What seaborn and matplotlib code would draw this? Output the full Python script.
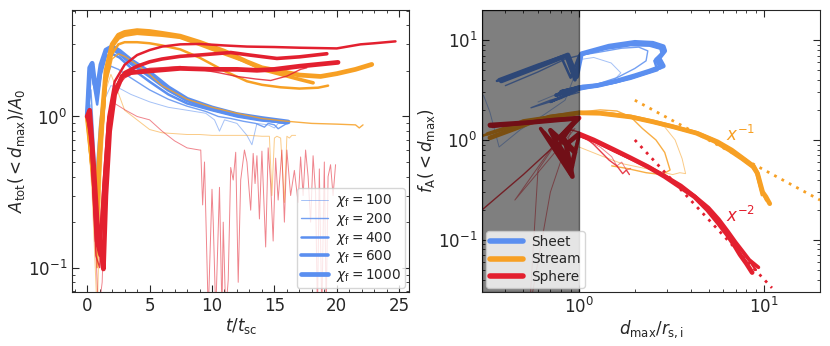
import numpy as np
import pandas as pd
import matplotlib
matplotlib.use("Agg")
import matplotlib.pyplot as plt
import seaborn as sns
from matplotlib.ticker import MultipleLocator

sns.set_style("ticks")
plt.rcParams['font.family'] = ['DejaVu Sans']
plt.rcParams['mathtext.fontset'] = 'dejavusans'

chis = [100, 200, 400, 600, 1000]
widths = [0.7, 1.0, 1.8, 2.6, 3.4]
alphas = [0.55, 0.85, 1.0, 1.0, 1.0]
c_sheet, c_stream, c_sphere = '#5b8ff0', '#f7a024', '#e3202f'

# ---- left panel: A_tot(<d_max)/A_0 vs t/t_sc ----
sheet_t = {
    100: [0, 0.3, 0.7, 1.0, 1.4, 1.9, 2.5, 3.5, 5, 6.5, 8, 9.5, 10.2, 10.6, 11, 12, 12.8, 13.2, 13.6, 14.5, 15, 15.3, 16],
    200: [0, 0.3, 0.7, 1.0, 1.4, 1.9, 2.5, 3.5, 5, 6.5, 8, 9.5, 10.5, 11.5, 12.5, 13.5, 14.2, 14.5, 15, 15.3, 16],
    400: [0, 0.2, 0.4, 0.6, 0.8, 1.1, 1.5, 2.0, 2.6, 3.5, 5, 6.5, 8, 10, 12, 14, 16],
    600: [0, 0.2, 0.4, 0.6, 0.8, 1.1, 1.5, 2.0, 2.6, 3.5, 5, 6.5, 8, 10, 12, 14, 16],
    1000: [0, 0.2, 0.4, 0.6, 0.8, 1.1, 1.5, 2.0, 2.6, 3.5, 5, 6.5, 8, 10, 12, 14, 16.1],
}
sheet_a = {
    100: [1.0, 1.2, 0.35, 0.7, 1.3, 1.6, 1.55, 1.4, 1.25, 1.15, 1.1, 1.05, 0.95, 0.8, 0.95, 0.9, 0.75, 0.65, 0.9, 0.88, 0.84, 0.9, 0.9],
    200: [1.0, 1.5, 0.4, 0.9, 1.7, 2.15, 2.05, 1.8, 1.5, 1.3, 1.17, 1.08, 1.0, 0.97, 0.93, 0.9, 0.85, 0.9, 0.88, 0.83, 0.9],
    400: [1.0, 1.8, 2.1, 1.5, 1.2, 1.9, 2.5, 2.6, 2.45, 2.1, 1.7, 1.4, 1.22, 1.1, 1.0, 0.94, 0.91],
    600: [1.0, 2.0, 2.2, 1.6, 1.4, 2.1, 2.7, 2.8, 2.6, 2.25, 1.85, 1.5, 1.28, 1.12, 1.02, 0.96, 0.91],
    1000: [1.0, 2.1, 2.25, 1.65, 1.5, 2.2, 2.75, 2.9, 2.7, 2.35, 1.95, 1.55, 1.3, 1.14, 1.03, 0.97, 0.92],
}
stream_t = {
    100: [0, 0.4, 0.8, 1.1, 1.5, 1.9, 2.4, 3, 4, 5, 6, 7, 8, 9, 10, 11, 12, 13, 14, 14.6, 14.8, 15.0, 15.2, 15.5, 15.8, 16.0, 16.2, 16.4, 16.7],
    200: [0, 0.4, 0.8, 1.1, 1.5, 2.0, 2.5, 3, 4, 5, 6, 8, 10, 12, 14, 16, 18, 20, 21.5, 21.8, 22.1],
    400: [0, 0.4, 0.8, 1.1, 1.5, 2.0, 2.5, 3, 4, 5, 6, 7.45, 9, 11, 12.8, 14, 15.5, 17, 18.5, 19.3],
    600: [0, 0.4, 0.8, 1.1, 1.5, 2.0, 2.5, 3, 4, 5, 6, 7.45, 9, 11, 12.8, 14, 15.5, 17, 18.1],
    1000: [0, 0.4, 0.8, 1.1, 1.5, 2.0, 2.5, 3, 4, 5, 6, 7.45, 9, 11, 12.8, 14, 15.5, 17, 18.7, 20, 21.5, 22.8],
}
stream_a = {
    100: [1.0, 0.3, 0.05, 0.4, 1.5, 1.9, 1.5, 1.1, 0.95, 0.82, 0.78, 0.77, 0.76, 0.76, 0.75, 0.75, 0.75, 0.75, 0.74, 0.74, 0.3, 0.72, 0.74, 0.72, 0.27, 0.74, 0.72, 0.75, 0.75],
    200: [1.0, 0.4, 0.1, 0.5, 1.6, 2.4, 2.6, 2.5, 2.2, 1.9, 1.6, 1.3, 1.15, 1.05, 0.97, 0.93, 0.9, 0.89, 0.88, 0.84, 0.88],
    400: [1.0, 0.4, 0.2, 0.6, 1.7, 2.6, 3.0, 3.1, 3.1, 3.05, 2.95, 2.78, 2.45, 2.0, 1.71, 1.62, 1.56, 1.53, 1.55, 1.6],
    600: [1.0, 0.45, 0.3, 0.7, 1.9, 2.9, 3.3, 3.45, 3.55, 3.5, 3.45, 3.34, 3.0, 2.6, 2.3, 2.05, 1.9, 1.76, 1.67],
    1000: [1.0, 0.5, 0.32, 0.8, 2.0, 3.0, 3.45, 3.6, 3.7, 3.65, 3.55, 3.4, 3.1, 2.7, 2.3, 2.1, 1.99, 1.88, 1.84, 1.92, 2.05, 2.21],
}
sphere_t = {
    100: [0, 0.3, 0.6, 0.9, 1.2, 1.5, 1.8, 2.2, 3, 4, 5, 6, 7, 8, 9, 9.1, 9.25, 9.4, 9.7, 10.0,
          10.1, 10.3, 10.6, 10.8, 10.9, 11.1, 11.3, 11.5, 11.7, 11.9, 12.1, 12.3, 12.6, 12.8, 13.1,
          13.3, 13.45, 13.6, 13.8, 14.0, 14.3, 14.5, 14.7, 14.9, 15.1, 15.3, 15.6, 15.8, 16.0, 16.3,
          16.6, 16.9, 17.1, 17.3, 17.5, 17.7, 17.9, 18.1, 18.3, 18.45, 18.6, 18.8, 19.0, 19.15, 19.3,
          19.5, 19.7, 19.9],
    200: [0, 0.3, 0.7, 1.0, 1.3, 1.7, 2.2, 3, 4, 5, 6, 7.45, 9, 10.5, 12, 13.5, 14.7, 16, 17.1, 17.6],
    400: [0, 0.3, 0.7, 1.0, 1.3, 1.7, 2.2, 3, 4, 5, 6, 7.45, 9, 11, 12.8, 15, 17, 19, 20, 21.9, 23, 24.7],
    600: [0, 0.3, 0.7, 1.0, 1.3, 1.7, 2.2, 3, 4, 5, 6, 7.45, 9, 11.5, 13, 15.2, 17, 19.2],
    1000: [0, 0.2, 0.5, 0.8, 1.1, 1.3, 1.5, 1.8, 2.2, 2.8, 3.5, 5, 7.45, 10, 12, 13.6, 15, 17, 20.1],
}
sphere_a = {
    100: [1.0, 0.6, 0.2, 0.05, 0.08, 0.5, 1.0, 1.22, 1.11, 1.0, 0.95, 0.8, 0.69, 0.62, 0.6, 0.6, 0.26, 0.5, 0.05, 0.33,
          0.2, 0.05, 0.34, 0.05, 0.2, 0.05, 0.083, 0.46, 0.38, 0.58, 0.08, 0.38, 0.6, 0.5, 0.24,
          0.57, 0.36, 0.55, 0.21, 0.59, 0.137, 0.62, 0.36, 0.15, 0.53, 0.28, 0.6, 0.2, 0.6, 0.3,
          0.44, 0.27, 0.54, 0.3, 0.6, 0.4, 0.2, 0.55, 0.31, 0.05, 0.45, 0.05, 0.5, 0.05, 0.4,
          0.48, 0.3, 0.48],
    200: [1.0, 0.6, 0.12, 0.1, 0.3, 0.9, 1.5, 1.8, 2.0, 2.08, 2.1, 2.14, 2.05, 1.95, 1.84, 1.77, 1.73, 1.85, 2.05, 2.1],
    400: [1.0, 0.7, 0.15, 0.12, 0.35, 1.0, 1.7, 2.2, 2.55, 2.75, 2.9, 3.0, 3.02, 2.95, 2.9, 2.88, 2.85, 2.83, 2.82, 3.0, 3.05, 3.14],
    600: [1.0, 0.8, 0.2, 0.13, 0.3, 0.9, 1.5, 1.95, 2.15, 2.3, 2.4, 2.5, 2.55, 2.65, 2.55, 2.42, 2.48, 2.6],
    1000: [1.0, 1.1, 0.5, 0.2, 0.13, 0.098, 0.3, 0.8, 1.4, 1.85, 1.95, 2.0, 2.08, 2.05, 2.05, 2.02, 2.05, 2.15, 2.28],
}

# ---- right panel: f_A(<d_max) vs d_max/r_s,i ----
sheet_d = {
    100: [0.305, 0.33, 0.37, 0.48, 0.65, 0.84, 0.95, 1.02, 1.2, 1.49, 1.68, 1.55, 1.3, 1.05, 0.8, 0.6],
    200: [0.4, 0.6, 0.85, 1.0, 1.3, 1.7, 2.1, 2.35, 2.3, 2.0, 1.6, 1.3, 1.05, 0.8, 0.55, 0.7, 1.0],
    400: [0.36, 0.55, 0.8, 0.9, 1.0, 1.4, 1.9, 2.4, 2.75, 2.8, 2.55, 2.65, 2.3, 1.9, 1.5, 1.2, 1.0, 0.7, 0.95],
    600: [0.37, 0.6, 0.85, 0.95, 1.02, 1.4, 1.95, 2.45, 2.8, 2.85, 2.6, 2.75, 2.35, 1.95, 1.55, 1.2, 1.0, 0.75, 1.0],
    1000: [0.38, 0.6, 0.87, 0.97, 1.03, 1.45, 2.0, 2.5, 2.85, 2.9, 2.7, 2.85, 2.4, 2.0, 1.6, 1.25, 1.05, 0.8, 1.0],
}
sheet_f = {
    100: [2.8, 1.9, 0.85, 1.26, 1.8, 2.5, 4.5, 6.4, 6.7, 5.9, 4.7, 4.0, 3.5, 3.2, 3.0, 2.4],
    200: [3.5, 4.8, 6.5, 7.0, 7.6, 8.3, 8.5, 7.8, 6.2, 5.2, 4.2, 3.7, 3.3, 2.6, 2.1, 2.5, 3.0],
    400: [3.9, 5.2, 6.8, 4.2, 7.0, 8.2, 8.9, 8.8, 8.2, 7.2, 6.2, 5.0, 4.6, 4.1, 3.7, 3.4, 3.2, 2.4, 3.1],
    600: [4.0, 5.6, 7.0, 4.0, 7.2, 8.4, 9.2, 9.0, 8.3, 7.5, 6.4, 5.3, 4.8, 4.3, 3.8, 3.5, 3.3, 2.8, 3.4],
    1000: [3.9, 5.4, 7.1, 4.3, 7.3, 8.7, 9.5, 9.3, 8.6, 7.8, 6.6, 5.5, 4.9, 4.4, 3.9, 3.5, 3.4, 3.0, 3.3],
}
stream_d = {
    100: [0.3, 0.45, 0.7, 1.0, 1.4, 1.9, 2.4, 2.9, 3.3, 3.6, 3.76, 3.5, 3.2, 2.5, 1.7, 1.3, 1.0, 0.8],
    200: [0.35, 0.5, 0.75, 1.0, 1.3, 1.6, 1.9, 2.2, 2.6, 2.9, 3.1, 2.8, 2.3, 1.8, 1.5],
    400: [0.3, 0.4, 0.55, 0.7, 0.9, 1.0, 1.3, 1.9, 2.5, 3.24, 4.36, 5.5, 6.56, 7.6, 8.6, 9.0, 9.3, 9.7],
    600: [0.32, 0.42, 0.5, 0.7, 0.9, 1.0, 1.3, 1.9, 2.5, 3.3, 4.4, 5.6, 6.7, 7.8, 8.8, 9.2, 9.5, 9.8, 10.3],
    1000: [0.33, 0.45, 0.55, 0.75, 0.9, 1.0, 1.3, 1.9, 2.5, 3.2, 4.3, 5.4, 6.5, 7.6, 8.7, 9.2, 9.5, 9.8, 10.2, 10.7],
}
stream_f = {
    100: [1.08, 1.5, 1.75, 1.85, 1.9, 1.75, 1.55, 1.35, 1.0, 0.65, 0.46, 0.47, 0.45, 0.5, 0.58, 0.7, 0.85, 0.9],
    200: [1.2, 1.5, 1.8, 1.9, 2.0, 1.95, 1.7, 1.3, 1.0, 0.75, 0.5, 0.45, 0.47, 0.52, 0.55],
    400: [1.1, 1.3, 1.5, 1.75, 1.8, 1.85, 1.83, 1.68, 1.5, 1.33, 1.15, 0.95, 0.78, 0.64, 0.54, 0.48, 0.38, 0.28],
    600: [1.15, 1.35, 1.55, 1.7, 1.8, 1.88, 1.86, 1.72, 1.54, 1.35, 1.17, 0.97, 0.8, 0.65, 0.55, 0.47, 0.36, 0.3, 0.25],
    1000: [1.05, 1.3, 1.5, 1.72, 1.82, 1.87, 1.85, 1.7, 1.52, 1.36, 1.17, 0.97, 0.79, 0.65, 0.54, 0.46, 0.37, 0.3, 0.27, 0.23],
}
sphere_d = {
    100: [0.9, 0.7, 0.54, 0.6, 0.8, 0.95, 0.45, 0.7, 1.0, 1.3, 1.5, 1.6, 1.7, 1.8, 1.9],
    200: [0.3, 0.5, 0.7, 0.85, 1.0, 1.2, 1.45, 1.6, 1.72, 1.8, 1.87],
    400: [0.34, 0.5, 0.7, 0.95, 0.75, 0.9, 0.65, 0.88, 1.0, 1.25, 1.6, 2.0, 2.4, 3.0, 3.6, 4.3, 5.0, 5.7, 6.4, 7.1, 7.7, 8.3, 9.0],
    600: [0.33, 0.5, 0.72, 0.98, 0.78, 0.92, 0.62, 0.9, 1.0, 1.22, 1.55, 1.95, 2.4, 2.95, 3.55, 4.25, 5.0, 5.7, 6.4, 7.0, 7.6, 8.3, 9.3],
    1000: [0.33, 0.55, 0.75, 1.0, 0.8, 0.95, 0.7, 0.92, 0.85, 1.0, 1.2, 1.54, 1.9, 2.35, 2.9, 3.5, 4.2, 4.93, 5.6, 6.3, 6.9, 7.4, 8.0, 8.6],
}
sphere_f = {
    100: [1.2, 0.3, 0.02, 0.5, 1.1, 1.3, 0.25, 0.8, 1.1, 0.85, 0.68, 0.55, 0.6, 0.5, 0.52],
    200: [0.2, 0.45, 0.8, 1.3, 1.2, 0.9, 0.63, 0.55, 0.46, 0.5, 0.45],
    400: [1.35, 1.45, 1.55, 1.6, 1.0, 0.6, 1.2, 0.5, 1.1, 0.95, 0.76, 0.62, 0.52, 0.42, 0.34, 0.26, 0.2, 0.15, 0.115, 0.09, 0.074, 0.062, 0.05],
    600: [1.38, 1.48, 1.6, 1.65, 0.9, 0.55, 1.3, 0.45, 1.12, 0.97, 0.78, 0.64, 0.53, 0.43, 0.35, 0.27, 0.21, 0.16, 0.12, 0.095, 0.078, 0.063, 0.053],
    1000: [1.41, 1.5, 1.58, 1.66, 1.1, 0.75, 1.25, 0.43, 0.9, 1.15, 1.0, 0.8, 0.66, 0.54, 0.43, 0.34, 0.27, 0.2, 0.15, 0.113, 0.088, 0.071, 0.058, 0.047],
}

# reference power laws (end points)
ref1_x, ref1_y = [2.0, 20.0], [2.5, 0.25]
ref2_x, ref2_y = [2.0, 11.0], [1.0, 0.033]


def draw(ax, x, y, color, lw, alpha, label=None):
    df = pd.DataFrame({'x': x, 'y': y})
    sns.lineplot(data=df, x='x', y='y', ax=ax, sort=False, estimator=None,
                 color=color, lw=lw, alpha=alpha, label=label)


fig = plt.figure(figsize=(8.3, 3.46), dpi=100)
ax1 = fig.add_axes([0.087, 0.156, 0.406, 0.815])
ax2 = fig.add_axes([0.581, 0.156, 0.407, 0.815])

for tt, aa, col in [(sheet_t, sheet_a, c_sheet), (stream_t, stream_a, c_stream), (sphere_t, sphere_a, c_sphere)]:
    for i, chi in enumerate(chis):
        draw(ax1, tt[chi], aa[chi], col, widths[i], alphas[i])

for dd, ff, col in [(sheet_d, sheet_f, c_sheet), (stream_d, stream_f, c_stream), (sphere_d, sphere_f, c_sphere)]:
    for i, chi in enumerate(chis):
        draw(ax2, dd[chi], ff[chi], col, widths[i], alphas[i])

ax1.set_yscale('log')
ax1.set_xlim(-1.2, 25.8)
ax1.set_ylim(0.069, 5.06)
ax1.xaxis.set_minor_locator(MultipleLocator(1))
ax1.set_xlabel(r'$t/t_{\rm sc}$', fontsize=12, labelpad=1)
ax1.set_ylabel(r'$A_{\rm tot}(<d_{\rm max})/A_0$', fontsize=12, labelpad=1)
hs = [plt.Line2D([], [], color=c_sheet, lw=widths[i], alpha=alphas[i]) for i in range(5)]
ax1.legend(hs, [r'$\chi_{\rm f}=%d$' % c for c in chis], loc='lower right', fontsize=9.8,
           handlelength=2.0, borderpad=0.3, labelspacing=0.12, handletextpad=0.6,
           borderaxespad=0.3)

ax2.plot(ref1_x, ref1_y, color=c_stream, lw=2, ls=(0, (1, 2)))
ax2.plot(ref2_x, ref2_y, color=c_sphere, lw=2, ls=(0, (1, 2)))
ax2.text(6.2, 1.12, r'$x^{-1}$', color=c_stream, fontsize=12, va='center')
ax2.text(6.2, 0.175, r'$x^{-2}$', color=c_sphere, fontsize=12, va='center')
ax2.axvspan(0.3, 1.0, facecolor='k', edgecolor='k', alpha=0.5, lw=1, zorder=5)
ax2.set_xscale('log')
ax2.set_yscale('log')
ax2.set_xlim(0.3, 20)
ax2.set_ylim(0.03, 20)
ax2.set_xlabel(r'$d_{\rm max}/r_{\rm s,i}$', fontsize=12, labelpad=1)
ax2.set_ylabel(r'$f_{\rm A}(<d_{\rm max})$', fontsize=12, labelpad=1)
hs2 = [plt.Line2D([], [], color=c, lw=4) for c in [c_sheet, c_stream, c_sphere]]
leg = ax2.legend(hs2, ['Sheet', 'Stream', 'Sphere'], loc='lower left', fontsize=9.8,
                 handlelength=2.4, borderpad=0.3, labelspacing=0.25, handletextpad=0.6,
                 borderaxespad=0.3)
leg.set_zorder(10)

for ax in (ax1, ax2):
    ax.tick_params(which='both', direction='in', top=True, right=True, labelsize=12)
    ax.tick_params(which='major', length=5)
    ax.tick_params(which='minor', length=2.5)

fig.savefig('out.png', dpi=100)
